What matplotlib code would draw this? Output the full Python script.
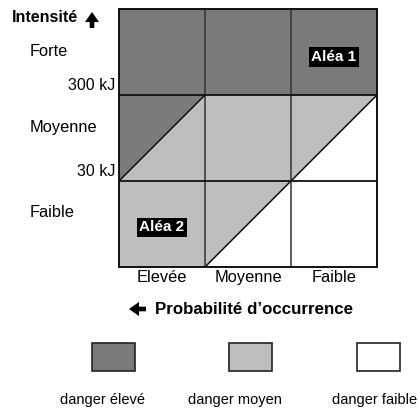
import matplotlib.pyplot as plt
from matplotlib.patches import Polygon, Rectangle, FancyArrowPatch
import matplotlib.transforms as mtransforms

plt.rcParams['font.family'] = ['Liberation Sans', 'DejaVu Sans']

### - Data
rows = ['Faible', 'Moyenne', 'Forte']            # intensité, bottom to top
row_label_y = [0.63, 1.62, 2.5]
cols = ['Elevée', 'Moyenne', 'Faible']           # probabilité d'occurrence
thresholds = ['30 kJ', '300 kJ']
threshold_y = [1, 2]

danger_labels = ['danger élevé', 'danger moyen', 'danger faible']
danger_colors = ['#7a7a7a', '#bebebe', '#ffffff']
# zones in cell units (x: column, y: row)
zone_polys = [
    [(0, 3), (3, 3), (3, 2), (1, 2), (0, 1)],
    [(0, 1), (1, 2), (3, 2), (1, 0), (0, 0)],
    [(1, 0), (3, 0), (3, 2)],
]
alea_labels = ['Aléa 1', 'Aléa 2']
alea_x = [2.5, 0.5]
alea_y = [2.44, 0.46]

W, H = 420, 408
fig = plt.figure(figsize=(W / 100, H / 100), dpi=100)
ax = fig.add_axes([119 / W, 1 - 267 / H, 258 / W, 258 / H])

def px(x, y):
    # pixel position -> figure fraction
    return x / W, 1 - y / H

for poly, col in zip(zone_polys, danger_colors):
    ax.add_patch(Polygon(poly, closed=True, facecolor=col, edgecolor='none'))

# grid and diagonals
for v in [1, 2]:
    ax.plot([v, v], [0, 3], color='#333333', lw=1.1)
    ax.plot([0, 3], [v, v], color='#111111', lw=1.3)
ax.plot([0, 1], [1, 2], color='#111111', lw=1.1)
ax.plot([1, 3], [0, 2], color='#111111', lw=1.1)

ax.set_xlim(0, 3)
ax.set_ylim(0, 3)
for s in ax.spines.values():
    s.set_linewidth(1.4)
    s.set_color('#111111')

ax.set_xticks([0.5, 1.5, 2.5], cols, fontsize=11.8)
ax.tick_params(axis='x', length=0, pad=2)
ax.set_yticks([])

trans = mtransforms.blended_transform_factory(fig.transFigure, ax.transData)
for lab, y in zip(rows, row_label_y):
    ax.text(30 / W, y, lab, transform=trans, fontsize=11.8, ha='left', va='center')
for lab, y in zip(thresholds, threshold_y):
    ax.text(115 / W, y + 0.02, lab, transform=trans, fontsize=11.5, ha='right', va='bottom')

for lab, x, y in zip(alea_labels, alea_x, alea_y):
    ax.text(x, y, lab, color='white', fontsize=11, fontweight='bold', ha='center', va='center',
            bbox=dict(facecolor='black', edgecolor='none', pad=2))

fig.text(*px(12, 18), 'Intensité', fontsize=11.5, fontweight='bold', ha='left', va='center')
fig.text(*px(155, 310), 'Probabilité d\u2019occurrence', fontsize=12.2, fontweight='bold',
         ha='left', va='center')

# heavy arrows
arrow_kw = dict(arrowstyle='simple,head_length=0.6,head_width=0.85,tail_width=0.28',
                color='black', lw=0, shrinkA=0, shrinkB=0, mutation_scale=12,
                transform=fig.transFigure)
fig.add_artist(FancyArrowPatch(px(92, 28), px(92, 12), **arrow_kw))
fig.add_artist(FancyArrowPatch(px(146, 309), px(129, 309), **arrow_kw))

# legend
box_cx = [113, 250, 378]
text_cx = [102, 235, 375]
for cx, tx, col, lab in zip(box_cx, text_cx, danger_colors, danger_labels):
    x0, y0 = px(cx - 21, 371)
    fig.patches.append(Rectangle((x0, y0), 43 / W, 28 / H, transform=fig.transFigure,
                                 facecolor=col, edgecolor='#222222', lw=1.2))
    fig.text(*px(tx, 400), lab, fontsize=10.5, ha='center', va='center')

fig.savefig('out.png', dpi=100)
